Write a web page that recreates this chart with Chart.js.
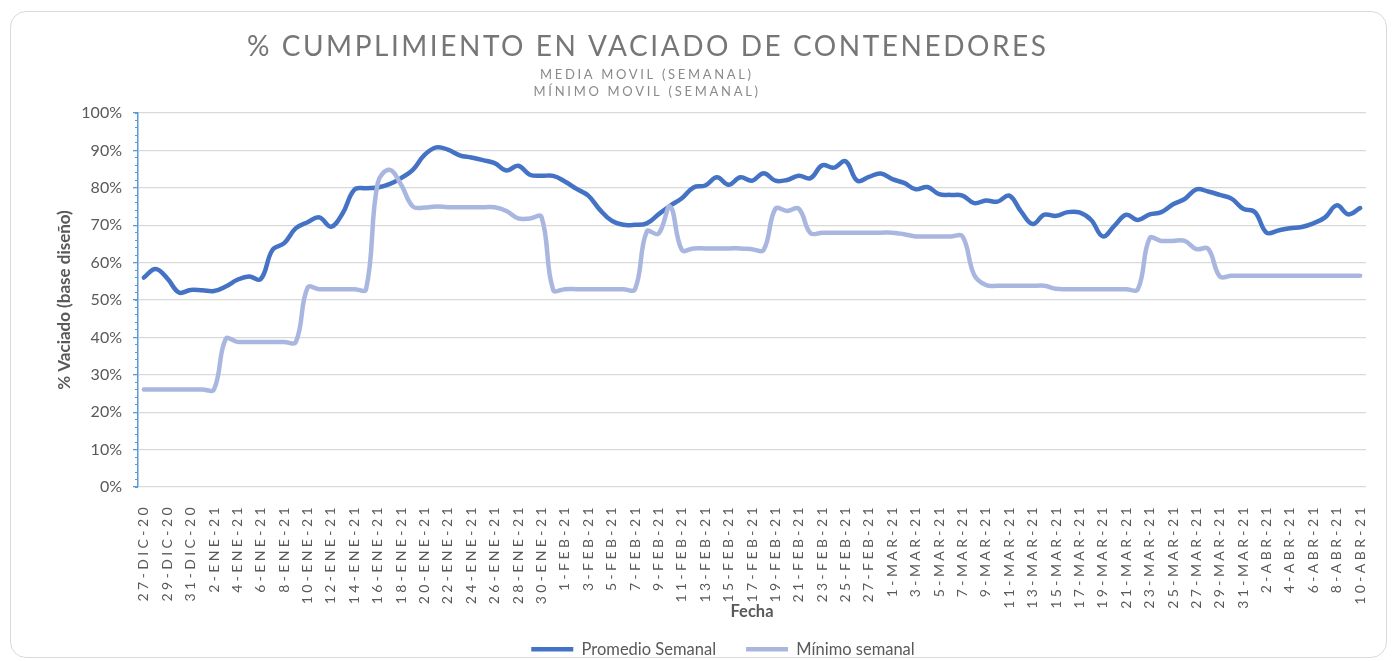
<!DOCTYPE html>
<html lang="es">
<head>
<meta charset="utf-8">
<title>% Cumplimiento en vaciado de contenedores</title>
<script src="https://cdn.jsdelivr.net/npm/chart.js@4.4.1/dist/chart.umd.min.js"></script>
<style>
  html, body { margin: 0; padding: 0; background: #ffffff; }
  #wrap { position: relative; width: 1394px; height: 661px; }
  #frame {
    position: absolute; left: 10px; top: 11px; width: 1375px; height: 645px;
    border: 1px solid #d9d9d9; border-radius: 16px; pointer-events: none;
  }
</style>
</head>
<body>
<div id="wrap">
  <canvas id="chart" width="1394" height="661"></canvas>
  <div id="frame"></div>
</div>
<script>
// Titles
const titulo = '% CUMPLIMIENTO EN VACIADO DE CONTENEDORES';
const subtitulos = ['MEDIA MOVIL (SEMANAL)', 'MÍNIMO MOVIL (SEMANAL)'];

// Days (category axis)
const fechas = [
    '27-DIC-20', '28-DIC-20', '29-DIC-20', '30-DIC-20', '31-DIC-20',
    '1-ENE-21', '2-ENE-21', '3-ENE-21', '4-ENE-21', '5-ENE-21', '6-ENE-21', '7-ENE-21', '8-ENE-21',
    '9-ENE-21', '10-ENE-21', '11-ENE-21', '12-ENE-21', '13-ENE-21', '14-ENE-21', '15-ENE-21',
    '16-ENE-21', '17-ENE-21', '18-ENE-21', '19-ENE-21', '20-ENE-21', '21-ENE-21', '22-ENE-21',
    '23-ENE-21', '24-ENE-21', '25-ENE-21', '26-ENE-21', '27-ENE-21', '28-ENE-21', '29-ENE-21',
    '30-ENE-21', '31-ENE-21',
    '1-FEB-21', '2-FEB-21', '3-FEB-21', '4-FEB-21', '5-FEB-21', '6-FEB-21', '7-FEB-21', '8-FEB-21',
    '9-FEB-21', '10-FEB-21', '11-FEB-21', '12-FEB-21', '13-FEB-21', '14-FEB-21', '15-FEB-21',
    '16-FEB-21', '17-FEB-21', '18-FEB-21', '19-FEB-21', '20-FEB-21', '21-FEB-21', '22-FEB-21',
    '23-FEB-21', '24-FEB-21', '25-FEB-21', '26-FEB-21', '27-FEB-21', '28-FEB-21',
    '1-MAR-21', '2-MAR-21', '3-MAR-21', '4-MAR-21', '5-MAR-21', '6-MAR-21', '7-MAR-21', '8-MAR-21',
    '9-MAR-21', '10-MAR-21', '11-MAR-21', '12-MAR-21', '13-MAR-21', '14-MAR-21', '15-MAR-21',
    '16-MAR-21', '17-MAR-21', '18-MAR-21', '19-MAR-21', '20-MAR-21', '21-MAR-21', '22-MAR-21',
    '23-MAR-21', '24-MAR-21', '25-MAR-21', '26-MAR-21', '27-MAR-21', '28-MAR-21', '29-MAR-21',
    '30-MAR-21', '31-MAR-21',
    '1-ABR-21', '2-ABR-21', '3-ABR-21', '4-ABR-21', '5-ABR-21', '6-ABR-21', '7-ABR-21', '8-ABR-21',
    '9-ABR-21', '10-ABR-21'
];

// % vaciado, weekly moving average
const promedioSemanal = [
    56.0, 58.3, 55.8, 52.0, 52.7, 52.6, 52.4, 53.6, 55.4, 56.3,
    55.6, 63.4, 65.2, 69.2, 70.8, 72.1, 69.6, 73.2, 79.5, 79.9,
    80.1, 81.0, 82.6, 84.8, 88.8, 90.8, 90.2, 88.7, 88.1, 87.4,
    86.6, 84.6, 85.9, 83.5, 83.2, 83.2, 81.7, 79.7, 77.9, 74.1,
    71.2, 70.1, 70.1, 70.5, 72.9, 75.2, 77.2, 80.1, 80.6, 82.8,
    80.8, 82.8, 81.9, 83.9, 81.9, 82.1, 83.2, 82.6, 86.0, 85.4,
    87.1, 81.9, 82.9, 83.8, 82.3, 81.3, 79.6, 80.2, 78.3, 78.1,
    77.9, 75.9, 76.6, 76.3, 77.9, 73.7, 70.3, 72.8, 72.5, 73.5,
    73.4, 71.4, 67.0, 69.9, 72.8, 71.4, 72.9, 73.5, 75.6, 77.0,
    79.6, 79.0, 78.1, 77.1, 74.4, 73.5, 68.0, 68.6, 69.2, 69.5,
    70.5, 72.1, 75.3, 72.9, 74.6
];

// % vaciado, weekly moving minimum
const minimoSemanal = [
    26.1, 26.1, 26.1, 26.1, 26.1, 26.1, 26.1, 39.6, 38.8, 38.8,
    38.8, 38.8, 38.8, 38.8, 53.3, 52.9, 52.9, 52.9, 52.9, 52.9,
    81.3, 84.8, 80.8, 75.0, 74.7, 75.0, 74.8, 74.8, 74.8, 74.8,
    74.8, 73.8, 71.8, 71.8, 72.2, 52.7, 52.9, 52.9, 52.9, 52.9,
    52.9, 52.9, 52.9, 68.3, 67.7, 75.0, 63.4, 63.8, 63.8, 63.8,
    63.8, 63.8, 63.6, 63.4, 74.4, 73.8, 74.4, 67.9, 68.0, 68.0,
    68.0, 68.0, 68.0, 68.0, 68.0, 67.6, 67.0, 67.0, 67.0, 67.0,
    67.0, 56.7, 54.0, 53.8, 53.8, 53.8, 53.8, 53.8, 53.0, 52.9,
    52.9, 52.9, 52.9, 52.9, 52.9, 52.9, 66.5, 65.8, 65.8, 65.8,
    63.6, 63.7, 56.3, 56.5, 56.5, 56.5, 56.5, 56.5, 56.5, 56.5,
    56.5, 56.5, 56.5, 56.5, 56.5
];

const FONT = 'Lato, "Open Sans", sans-serif';
const GRIS = '#595959';

// draws a line of text with letter spacing stretched between two x positions
function textoEspaciado(ctx, texto, x0, x1, y, font) {
    ctx.font = font;
    ctx.letterSpacing = '0px';
    const base = ctx.measureText(texto).width;
    const extra = (x1 - x0 - base) / (texto.length - 1);
    ctx.letterSpacing = extra + 'px';
    ctx.textAlign = 'left';
    ctx.textBaseline = 'middle';
    ctx.fillText(texto, x0, y);
}

const encabezado = {
    id: 'encabezado',
    afterDraw(chart) {
        const ctx = chart.ctx;
        ctx.save();
        ctx.fillStyle = '#767676';
        textoEspaciado(ctx, titulo, 247, 1046, 47, '28px ' + FONT);
        ctx.fillStyle = '#8a8a8a';
        textoEspaciado(ctx, subtitulos[0], 540, 751, 74.5, '13px ' + FONT);
        textoEspaciado(ctx, subtitulos[1], 533.5, 758, 91.5, '13px ' + FONT);
        ctx.restore();
    }
};

// the date labels on the x axis are letter-spaced
const fechasEspaciadas = {
    id: 'fechasEspaciadas',
    beforeDraw(chart) {
        const scale = chart.scales.x;
        if (scale._espaciado) return;
        const drawLabels = scale.drawLabels;
        scale.drawLabels = function (area) {
            this.ctx.save();
            this.ctx.letterSpacing = '3.4px';
            drawLabels.call(this, area);
            this.ctx.restore();
        };
        scale._espaciado = true;
    }
};

new Chart(document.getElementById('chart'), {
    type: 'line',
    data: {
        labels: fechas,
        datasets: [
            {
                label: 'Promedio Semanal',
                data: promedioSemanal,
                borderColor: '#4472C4',
                backgroundColor: '#4472C4',
                borderWidth: 4.5,
                borderCapStyle: 'round',
                borderJoinStyle: 'round',
                pointRadius: 0,
                tension: 0.4,
                order: 1
            },
            {
                label: 'Mínimo semanal',
                data: minimoSemanal,
                borderColor: '#A9B7E0',
                backgroundColor: '#A9B7E0',
                borderWidth: 4.5,
                borderCapStyle: 'round',
                borderJoinStyle: 'round',
                pointRadius: 0,
                tension: 0.4,
                order: 0
            }
        ]
    },
    options: {
        responsive: false,
        animation: false,
        devicePixelRatio: 1,
        layout: {
            padding: { top: 113, left: 80, right: 28, bottom: -6.5 }
        },
        plugins: {
            title: { display: false },
            tooltip: { enabled: false },
            legend: {
                position: 'bottom',
                labels: {
                    usePointStyle: true,
                    pointStyle: 'line',
                    pointStyleWidth: 42,
                    padding: 30,
                    color: GRIS,
                    font: { family: FONT, size: 16.5 },
                    sort: (a, b) => a.datasetIndex - b.datasetIndex
                }
            }
        },
        scales: {
            x: {
                offset: true,
                grid: { display: false },
                border: { display: false },
                ticks: {
                    autoSkip: false,
                    minRotation: 90,
                    maxRotation: 90,
                    padding: 9,
                    color: GRIS,
                    font: { family: FONT, size: 14 },
                    callback: (value, index) => index % 2 === 0 ? fechas[index] : ''
                },
                title: {
                    display: true,
                    text: 'Fecha',
                    color: GRIS,
                    font: { family: FONT, size: 16.5, weight: 'bold' },
                    padding: { top: 0, bottom: -10.4 }
                },
                afterFit: (scale) => { scale.height = 124; }
            },
            y: {
                weight: 1,
                min: 0,
                max: 100,
                grid: {
                    color: '#D9D9D9',
                    lineWidth: 1.3,
                    tickColor: '#5B9BD5',
                    tickLength: 5
                },
                border: { color: '#5B9BD5', width: 1.5 },
                ticks: {
                    stepSize: 10,
                    padding: 11,
                    color: GRIS,
                    font: { family: FONT, size: 16 },
                    callback: (value) => value + '%'
                },
                title: {
                    display: true,
                    text: '% Vaciado (base diseño)',
                    color: GRIS,
                    font: { family: FONT, size: 17, weight: 'bold' },
                    padding: { top: -25.2, bottom: 0 }
                },
                afterFit: (scale) => { scale.width = 58; }
            },
            yMinor: {
                position: 'left',
                weight: 0,
                min: 0,
                max: 100,
                grid: {
                    drawOnChartArea: false,
                    tickColor: '#5B9BD5',
                    tickLength: 3
                },
                border: { display: false },
                ticks: { stepSize: 2, display: false },
                afterFit: (scale) => { scale.width = 0; }
            }
        }
    },
    plugins: [encabezado, fechasEspaciadas]
});
</script>
</body>
</html>
